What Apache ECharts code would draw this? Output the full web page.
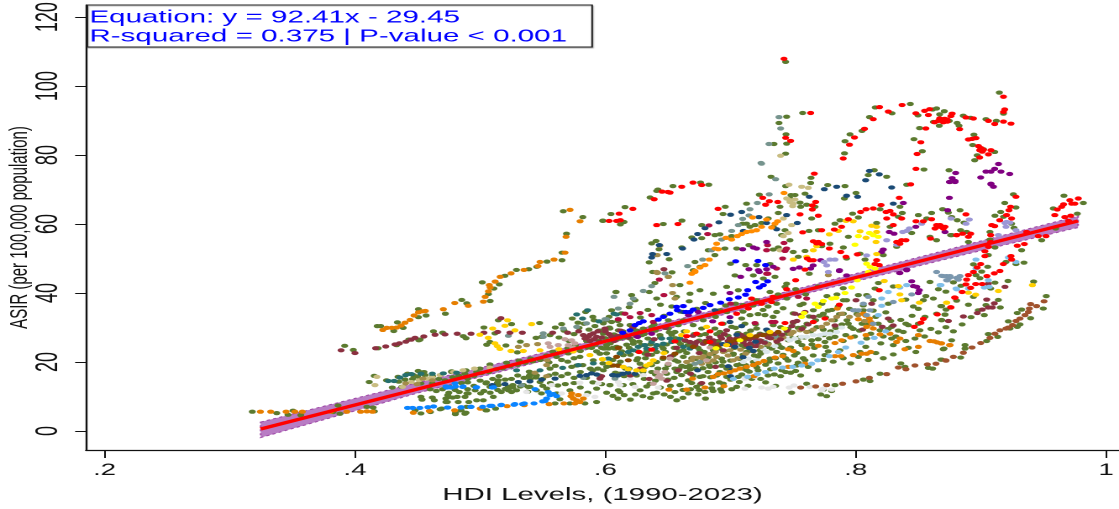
<!DOCTYPE html>
<html><head><meta charset="utf-8">
<style>html,body{margin:0;padding:0;background:#fff;overflow:hidden;width:1119px;height:509px}
#c{width:666px;height:509px;transform:scale(1.6802,1);transform-origin:0 0;position:absolute;left:0;top:0}</style>
<script src="https://cdn.jsdelivr.net/npm/echarts@6/dist/echarts.min.js"></script>
</head><body><div id="c"></div>
<script>
const xTicks=[0.2,0.4,0.6,0.8,1];
const xTickLabels=['.2','.4','.6','.8','1'];
const yTicks=[0,20,40,60,80,100,120];
const fitX=[0.3247,0.9776];
const fitY=[0.58,60.9];
const bandX=[0.3247,0.45,0.6,0.75,0.9,0.9776];
const bandLow=[-1.9,11.0,25.0,38.9,52.3,59.0];
const bandHigh=[2.6,14.0,27.0,40.9,55.1,62.3];

const olive=[[.318,5.6],[.3375,5.2],[.3465,4.7],[.3505,5.9],[.3567,4.6],[.3865,7.4],[.3825,5.5],[.388,5],[.4095,7],[.4145,6.8],[.4155,5.7],
[.4178,30.4],[.4205,30.4],[.431,29],[.4339,31.5],[.4385,29.9],[.4507,35.3],[.4568,33.5],[.4507,33],[.3918,24.7],[.3987,23.5],[.4185,24],[.4333,24.9],[.443,26.5],[.452,26.5],[.451,26.3],[.4627,28.9],[.47,28.5],
[.5664,63.7],[.582,62],[.569,57.2],[.5654,51.7],[.5654,49.5],[.5534,49.1],[.5452,47.6],[.5388,46.9],[.529,46.7],[.5198,45],[.5153,42.5],[.511,41.3],[.5017,43.1],[.5066,39.7],[.508,37.7],[.4853,38],[.4893,37],[.4722,34],[.598,61],[.6045,62.9],
[.598,60.9],[.6157,64.9],[.6149,60.6],[.612,59.9],[.6357,67.7],[.642,70],[.641,69.6],[.654,71],[.676,72],[.6826,71.4],[.6463,60],[.6612,61],[.6958,65],[.694,62.9],[.677,59.7],[.669,56.1],[.677,55.9],[.637,54.4],[.6405,55.1],[.6429,52.7],[.661,53.2],[.651,49.8],[.635,48.9],[.6716,49],[.6533,46],[.6415,45.9],
[.744,107],[.7576,92.2],[.7448,91.1],[.7387,89.3],[.7443,86],[.7347,83.2],[.7448,83.3],[.744,80.4],[.791,80.5],[.7914,84],[.7954,86],[.805,87],[.811,91],[.8156,93.8],[.829,92.1],[.8436,94.8],[.8497,91.5],[.8614,93.2],[.8646,93.5],[.8707,92.7],[.867,91.8],[.862,89.6],[.8667,88.5],[.8747,89.9],[.851,87.8],[.8465,84.6],[.8532,81.1],[.881,89.3],[.8825,88.5],[.8859,91.4],[.8917,90.8],[.904,90.4],[.9123,89.9],[.918,92],[.9147,98.1],[.8944,85.9],[.8934,82.9],[.902,81.7],[.911,80.9],[.897,79.9],[.895,78.5],
[.9259,68.6],[.919,66.1],[.928,64.8],[.9112,62.4],[.9158,63.5],[.918,62.1],[.9245,60.1],[.9264,58.9],[.9072,57.7],[.9072,55.5],[.9112,53.2],[.9059,51],[.9325,52.4],[.9485,55.3],[.9597,58.7],[.9578,64.5],[.9663,68.2],[.977,63],[.9818,66.1],[.8833,64],[.8811,61.1],[.874,63.3],[.8694,64.3],[.8865,60.4],[.8886,57.7],[.89,54.8],[.8758,56.8],[.8838,58.2],[.9344,48.8],[.928,48.4],[.92,49],[.9054,47.6],[.9006,46.2],[.894,48.3],[.896,45.2],[.8992,44.3],[.9112,43],[.9216,43.5],[.9421,43.3],[.9078,41.3],[.894,38.9],[.8806,37.8],[.9139,38],[.9155,35.8],[.904,36.5],[.8979,35],[.9027,33.6],[.8921,33],[.8713,33.7],[.8686,32.2],[.8721,35.2],[.8686,36.2],[.9522,39.1],[.9498,35.5],[.9397,32.7],[.9325,35.2],[.929,34.2],[.9219,31.8],[.9312,30.9],[.929,30.2],[.9232,29.7],[.9134,27.3],[.9046,26.1],[.9059,28.1],[.8873,24.9],[.8873,23.9],[.8705,23.9],[.8766,26.3],[.8838,21.3],[.8681,20.7],
[.8194,16.6],[.8114,14.5],[.8061,14.9],[.8614,18.1],[.8686,20.7],[.858,18.3],[.8393,18.6],[.7834,13.3],[.7741,12],[.7488,11.1],[.7608,13.7],[.772,10.6],[.7768,10.1],[.7808,11.6],
[.8646,34],[.868,36.2],[.8713,33.8],[.8686,32.1],[.8699,23.7],[.8553,33.1],[.842,30.7],[.838,28.7],[.83,24.9],[.8287,30.2],[.8473,26.8],[.8513,29.2],[.8593,43.2],[.854,37.9],[.8154,41.3],[.8181,42.9],[.7448,42.7],[.7435,41.8],[.7629,45.6],[.8021,39.4],[.814,37.9],[.7901,37.9],[.7927,37.9],[.7581,36.9],[.7555,36.5],[.7741,34],[.7661,35],[.7901,34],[.7941,31.1],[.7741,27.8],[.7754,25.8],[.7648,26.3],[.7541,25.8],[.7461,26.3],[.7874,23.4],[.8034,22.9],[.8021,21.5],[.7834,27.3],[.8194,29.2],[.8087,26.8],[.8287,26.8],[.7395,24.4],[.7408,17.6],[.7595,20.5],[.7528,19],[.7754,22],[.8087,39.4],[.8061,35],[.7994,35],
[.503,30],[.5145,32.1],[.5251,31],[.5118,28.3],[.5078,25.8],[.5052,25],[.5206,24.8],[.5321,25.9],[.5297,22.8],[.5475,31.3],[.5446,27],[.5491,27.3],[.5558,27.8],[.56,30],[.5651,31],[.5736,32.6],[.5842,34.5],[.5781,31.4],[.5917,30.4],[.5984,31.2],[.605,31.6],[.6085,40.3],[.6032,30],[.6077,27.3],[.6103,29.2],[.4865,27.5],[.4887,26.9],
[.4772,17.3],[.4887,17.6],[.4998,18.1],[.5078,19.3],[.5211,19.8],[.531,20.4],[.5403,21],[.5611,21.5],[.5704,22.5],[.5797,21.5],[.5904,20.5],[.601,22.5],[.609,24.4],[.5392,17.2],[.5392,16],[.5558,18.1],[.5731,18.6],[.5771,19],[.601,18.6],[.6103,19.1],
[.5145,14.7],[.5225,12.8],[.5291,11.8],[.5145,13.3],[.5078,12.8],[.5004,10.9],[.4905,10.9],[.4879,9.9],[.4759,12.8],[.4746,9.9],[.478,9.7],[.4825,8.4],[.4738,8.4],[.4892,7],[.4804,5.3],[.4887,5.3],[.4692,6.5],[.4972,8.9],[.5025,8.9],[.5105,9.9],[.5251,11.3],[.5398,12.8],[.5478,14.2],[.5531,12.3],[.5611,10.9],[.5637,9.2],[.5598,8],[.5717,8],[.593,12.3],[.593,8.4],[.5837,8],[.6037,13.3],[.6103,11.8],[.5717,11.8],[.5345,13.3],[.5052,6],[.5225,11.8],
[.4114,14.2],[.4154,16],[.4252,14.7],[.4298,12.6],[.4344,15.7],[.4374,12.8],[.442,16.6],[.4466,16.2],[.4505,17.4],[.4551,17.1],[.4527,13.8],[.4618,13.8],[.4527,9.9],[.4536,9.1],[.4618,9.7],[.4634,8.9],[.4741,10.4],[.4726,9.4],[.4817,9.9],[.4894,10.9],[.4833,11.3],[.4726,8.4],[.4909,8.4],[.468,6.3],[.4848,6],[.4878,5],[.4802,4.9],[.4527,5.1],[.4603,5.5],[.5046,6],[.5123,6.5],[.4481,6],[.4771,17.1],[.4878,16.6],[.4972,17.1],[.5046,13.8],[.5138,14],[.5169,11.3],[.5261,13.3],[.5383,12.8],[.549,10.9],[.5445,15.5],[.5321,20],[.5398,16.2],
[.7643,73.4],[.764,71.9],[.7776,71.3],[.7914,71],[.8148,75.6],[.81,74.2],[.8247,73.7],[.8407,71.4],[.8545,75.8],[.8745,75.6],[.8753,72.2],[.8002,69],[.7909,67.4],[.7595,68.8],[.7515,68.4],[.7483,68.4],[.744,71],[.7555,66.2],[.7608,65.6],[.7675,65],[.7648,61.6],[.7975,63],[.8194,64.3],[.8353,65],[.8372,63.2],[.834,62.1],[.8606,63.2],[.8766,62],[.8646,55.3],[.8766,56.8],[.7874,61.1],[.7834,60.1],[.8021,61.9],[.8167,60.3],[.8274,59.2],[.7627,58],[.7701,58.2],[.7941,56.3],[.7794,54.3],[.7728,53.6],[.7501,51.9],[.7595,52.2],[.7901,53.2],[.8074,49.7],[.7927,50],[.8034,51.4],[.822,51],[.7541,50.5],[.744,52.6],[.7408,56.8],[.7475,55.3],[.7435,58.2],[.756,65],[.7475,67.4],[.7395,65],[.85,62.6],[.8567,61.6],[.8327,53.4],[.8447,57.4],[.8593,56.3],
[.7323,73.7],[.7128,65.9],[.723,68.5],[.7128,60.1],[.7155,59.2],[.7097,60.1],[.7195,59.7],[.7248,60.3],[.7301,61.6],[.7381,63.2],[.7341,59.2],[.7009,56.5],[.6915,57],[.6875,56.8],[.6955,52.9],[.7049,52.9],[.7147,53.9],[.7381,53.2],[.7341,52.6],[.7208,48.1],[.7315,48.4],[.7121,48.1],[.7,48.5],[.6756,47.6],[.6822,52.4],[.6702,46.6],[.6875,51],
[.6378,46.1],[.6503,44.7],[.6596,42.3],[.6396,42.9],[.6085,40.3],[.621,39.4],[.6351,40.3],[.6237,37.9],[.641,38.4],[.6569,38.9],[.6676,39.8],[.6756,40.8],[.6862,39.8],[.6969,41.8],[.7035,45.1],[.7062,40.8],[.7182,45.1],[.7262,44.2],[.7315,40.3],[.7102,36.5],[.7208,37.9],[.7275,33.6],[.7089,32.6],[.7155,33.6],[.6915,35],[.6782,32.1],[.6702,30.7],[.6583,30.7],[.6503,29.7],[.6356,29.2],[.6303,29.7],[.6197,30.7],[.6117,30.7],[.601,32.1],[.6037,29.7],[.6117,26.8],[.601,26.3],[.6197,26.8],[.629,27.8],[.6436,27.8],[.6556,28.7],[.6769,29.7],[.6875,29.7],[.7009,30.2],[.7115,31.1],[.7208,29.7],[.7368,34.5],[.7368,26.8],[.7301,25.3],[.7128,22.9],[.7035,25.3],[.6915,28.7],[.6756,27.8],[.6583,25.8],[.6463,23.9],[.6316,22.4],[.6143,22],[.6024,23.9],[.5957,22.4],[.625,20.5],[.641,20],[.6556,20.5],[.6623,21.5],[.5984,17.6],[.6117,16.6],[.6037,13.3],[.6143,13.3],[.6277,11.8],[.6356,13.7],[.649,16.6],[.6609,16.2],[.6663,14.7],[.6729,12.8],[.6596,13.3],[.6556,11.3],[.6383,10.9],[.6117,11.3],[.6756,15.7],[.6849,13.7],[.6915,17.1],[.7062,15.7],[.6969,15.7],[.6836,18.6],[.7102,18.1],[.7182,20],[.7022,22.4],[.6929,21],[.6862,23.4],[.6756,23.4],[.6676,19],[.7315,21],[.7368,22.9],[.7049,12.8],[.6942,13.7],[.6796,11.3],[.6663,10.9],[.6277,19.5],[.6223,25.3],[.637,30.2],[.6503,32.1],[.6623,32.1],[.6822,33.6],[.6969,34.5],[.605,35],[.5984,28.2],[.6077,23.9],[.6316,18.6],[.6556,18.1],[.6623,23.4],[.6809,22],[.7115,24.4],[.7235,23.4],[.7128,28.2],[.7235,28.2],[.7341,30.7],[.7368,36.9],[.7355,44.7]];
const oliveDense=[[.435,14.3],[.44,14.9],[.446,15.1],[.45,15.8],[.456,16.2],[.462,15.9],[.467,15.1],[.472,14.7],[.478,15.6],[.483,16],[.49,15.2],[.495,16],[.501,16.8],[.507,17.1],[.513,17.9],[.518,18.2],[.524,18.8],[.53,19.2],[.536,19.8],[.542,20.2],[.548,20.6],[.553,21.9],[.558,23],[.564,22.8],[.57,24],[.576,24.8],[.58,23.2],[.586,24.2],[.592,25],[.597,24.1],[.49,12.1],[.496,11.8],[.503,11.6],[.508,11.1],[.514,11.9],[.52,12.2],[.526,12.6],[.532,12.9],[.538,11.4],[.545,11.8],[.55,13.1],[.556,13.9],[.562,13.2],[.568,13.6],[.575,13.9],[.58,12.6],[.586,11.1],[.59,14.1],[.597,13.6],[.601,11.1],[.606,10.2],[.61,9.4],[.615,10.4],[.62,9.1],[.624,10.6],[.63,10.1],[.636,9.6],[.641,11.1],[.647,10.6],[.652,9.9],[.657,8.9],[.662,9.6],[.668,12.1],[.674,10.6],[.68,9.4],[.686,11.6],[.692,12.1],
[.59,33.1],[.595,29.1],[.6,26.9],[.604,25.4],[.607,28],[.611,24.2],[.614,28.9],[.617,25],[.62,22.1],[.623,28.1],[.626,23.1],[.629,24.9],[.632,21.1],[.634,26.8],[.637,22.1],[.64,29.1],[.642,18.1],[.645,24.6],[.648,22.9],[.65,19.1],[.653,27.9],[.655,24.1],[.658,20.1],[.66,25.2],[.663,28.9],[.665,22.6],[.668,17.9],[.67,25.4],[.672,20.9],[.675,26.2],[.678,18.2],[.68,28.1],[.682,21.4],[.685,24.8],[.688,19.9],[.69,26.1],[.693,18.9],[.695,23.1],[.698,27.6],[.7,20.4],[.703,24.1],[.706,28.4],[.708,19.4],[.71,22.1],[.713,26.6],[.715,17.2],[.718,24.6],[.72,30.9],[.722,21.6],[.725,26.1],[.728,19.2],[.73,28.9],[.733,23.9],[.735,16.4],[.738,25.1],[.74,30.1],[.742,22.1],[.745,28.2],[.748,24.2],[.75,31.4],[.753,22.6],[.755,27.1],[.758,30.1],[.76,23.9],[.763,33.2],[.765,25.1],[.768,32.1],[.77,26.6],[.773,36.9],[.776,24.4],[.778,34.9],[.78,28.9],[.783,32.1],[.786,36.1],[.789,30.9],[.792,27.8],[.795,35.4],[.798,29.6],[.801,33.9],[.805,31.1],[.808,24.4],[.812,28.2],[.816,33.1],[.82,25.4],[.824,34.4],[.828,31.9],[.832,27.4],[.836,32.2],[.84,26.1],[.845,33.4],[.85,31.1],
[.563,27.1],[.567,29.1],[.571,26.1],[.575,28.1],[.579,29.9],[.583,31.1],[.587,29.4],[.591,32.1],[.595,26.1],[.599,23.9],[.603,33.1],[.606,20.6],[.61,31.9],[.613,34.1],[.616,18.1],[.619,35.9],[.622,29.9],[.625,16.1],[.628,32.9],[.631,15.1],[.634,35.1],[.637,17.1],[.64,14.6],[.644,36.6],[.647,33.4],[.65,14.9],[.653,36.1],[.657,17.1],[.66,34.6],[.664,18.6],[.667,37.6],[.67,16.1],[.673,35.4],[.676,13.6],[.68,37.1],[.684,15.6],[.688,33.1],[.691,14.1],[.696,36.4],[.7,14.9],[.704,36.9],[.707,14.2],[.71,34.6],[.714,13.1],[.718,36.4],[.722,17.6],[.726,35.1],[.73,16.1],[.734,33.1],[.738,19.6],[.742,35.6],[.746,20.4],[.75,34.1],[.754,19.8],[.758,21.1],[.762,18.6],[.766,21.9],[.77,17.6],[.774,20.6],[.778,23.1],[.782,20.1],[.79,21.1],[.796,19.6],[.81,20.6],[.816,22.6],[.822,21.1],[.83,22.2],[.836,19.6],[.842,24.1],[.848,22.9],[.855,27.4],[.86,29.6],[.866,28.6],[.872,30.1],[.878,28.9],[.885,30.9],[.84,38.1],[.846,36.1],[.85,35.4],[.856,39.1],[.862,38.4],[.866,41.1],[.872,40.4],[.878,43.1],[.884,42.1],[.89,36.6],[.83,41.9],[.826,36.9],[.79,41.4],[.785,39.6],[.777,39.1],[.77,41.9],[.76,39.6],[.752,41.1],[.745,38.4],[.738,39.6],[.73,36.1],[.722,33.9],[.716,29.1],[.704,29.9],[.694,31.1]];
const oliveCore=[[.606,24.1],[.609,26.6],[.613,23.1],[.616,27.1],[.619,24.1],[.622,26.1],[.625,29.1],[.627,25.9],[.631,28.1],[.633,23.1],[.636,25.1],[.639,30.9],[.641,22.9],[.644,27.1],[.646,20.9],[.649,25.1],[.651,28.6],[.654,21.9],[.656,26.9],[.659,23.1],[.661,18.9],[.664,26.1],[.666,24.9],[.669,21.1],[.671,28.1],[.674,24.1],[.676,19.9],[.679,22.9],[.681,26.1],[.683,19.1],[.686,22.4],[.689,28.1],[.691,23.9],[.694,20.1],[.697,25.1],[.699,18.4],[.702,22.1],[.704,26.4],[.707,20.9],[.709,24.9],[.712,19.1],[.714,23.1],[.717,27.1],[.719,21.9],[.721,18.4],[.724,22.4],[.726,27.9],[.729,24.4],[.731,20.1],[.734,27.4],[.736,21.1],[.739,27.9],[.741,24.1],[.744,21.1],[.746,29.6],[.749,26.9],[.751,21.9],[.754,29.9],[.757,24.9],[.759,27.1],[.761,31.1],[.764,28.9],[.767,24.1],[.769,30.1],[.771,33.4],[.774,29.4],[.776,32.9],[.779,26.9],[.781,35.1],[.784,29.9],[.787,33.9],[.79,26.1],[.793,32.1],[.796,30.1],[.799,27.4],[.803,29.1],[.806,36.4],[.81,30.9],[.814,34.9],[.818,31.1],[.822,27.4],[.826,29.6],[.834,29.1],[.84,31.1],
[.585,26.1],[.589,24.1],[.593,23.1],[.597,29.1],[.601,24.9],[.604,18.9],[.608,16.9],[.612,20.1],[.615,15.9],[.619,18.1],[.622,13.6],[.626,21.1],[.63,17.1],[.633,12.9],[.637,19.1],[.64,16.4],[.644,12.6],[.648,18.1],[.652,13.1],[.655,15.4],[.659,18.1],[.662,11.9],[.665,17.1],[.669,13.9],[.672,18.1],[.675,11.9],[.678,15.9],[.682,17.1],[.685,12.4],[.689,16.1],[.693,11.4],[.697,18.1],[.701,12.1],[.705,19.1],[.709,16.4],[.713,17.6],[.717,15.1],[.72,19.1],[.724,15.1],[.728,14.1],[.732,17.9],[.736,13.1],[.74,15.9],[.744,17.1],[.748,16.9],[.752,17.4],[.756,16.1],
[.46,12.1],[.465,11.6],[.47,12.1],[.475,11.1],[.48,11.9],[.485,13.9],[.49,14.1],[.495,13.1],[.5,14.6],[.505,14.1],[.51,15.1],[.515,15.9],[.52,14.9],[.525,15.1],[.53,16.1],[.535,15.4],[.54,15.1],[.545,16.1],[.55,15.1],[.555,16.1],[.56,16.6],[.565,15.9],[.57,16.6],[.575,15.4],[.58,17.1],[.585,15.4],[.59,17.6],[.595,16.1],[.555,19.9],[.56,18.9],[.565,20.6],[.57,20.1],[.575,21.1],[.582,19.1],[.588,18.1],[.594,18.1],[.598,19.6]];
const orange=[[.3245,5.6],[.3327,5.6],[.345,5.6],[.352,5.6],[.358,5.6],[.3805,5.6],[.3935,5.6],[.4045,5.6],[.4095,5.7],[.414,5.6],
[.4222,29.3],[.4254,29.9],[.4294,29.9],[.4334,30],[.4369,30.6],[.44,31.4],[.444,32.2],[.4472,33.5],[.4507,34.4],[.4538,34.7],[.4562,34.8],
[.5718,64.1],[.5798,60.8],[.5686,56.3],[.5678,51.7],[.559,49.7],[.5478,49],[.5462,47.8],[.535,46.7],[.5247,45.7],[.516,44.7],[.512,43.3],[.5073,42.3],[.508,41.6],[.5066,40.5],[.504,38.9],[.5026,37.5],[.4905,36.3],[.4797,37.1],[.4706,35.3],
[.4466,5.3],[.4594,5.8],[.4796,6],[.5001,6.5],[.5215,7.2],[.5352,7.5],[.5551,7.8],
[.5731,10.9],[.5744,9.4],[.5771,8.9],[.5797,8.4],[.5824,9.4],[.5757,8],[.5669,8],[.5784,10.4],[.5725,10.1],
[.8593,26.1],[.8625,26],[.865,25.7],[.8682,25.4],[.8753,24.9],[.85,27.8],[.85,24.4],[.8393,23.7],[.8327,25.8],[.8353,26.8],[.8082,27.8],[.8194,28],[.8274,28.2],[.814,29.7],[.7887,26.3],[.7959,27.1],[.7701,24.7],[.7608,24],[.7501,23.2],[.7461,23.7],[.7416,21.7],[.7834,25.5],[.8047,22.4],[.8087,22.4],[.8119,22.9],[.7981,22],[.7882,21.7],[.7834,21.7],[.7595,19.5],[.7461,18.6],[.806,34],[.808,33.4],[.811,32.6],[.812,31.6],[.813,30.9],[.8021,32.4],[.8087,30.2],[.7853,35.5],[.8686,25.4],[.875,24.9],
[.6862,15.7],[.6902,16.5],[.6947,16.7],[.6995,17.1],[.7035,17.6],[.7075,18.1],[.7128,18.6],[.7182,19.1],[.7222,19.7],[.7267,20.3],[.7142,15.7],[.7187,15.9],[.6947,13],[.6796,12.6],[.6649,12],[.6508,12],[.6697,15.2],[.7355,21.3]];
const brightOrange=[[.6963,56],[.7009,55.5],[.7054,56.5],[.7089,57.1],[.7128,57.7],[.7168,57.9],[.7208,58.2],[.7248,59.2],[.7328,59],[.7355,60.1],[.7376,60.8],[.7176,61.9],[.7288,61.3],[.6889,54.3],[.6902,52.7],[.6875,52.9],[.683,49.7],[.6796,48.1],[.6756,47.4],[.6716,46.4],[.669,45.6],[.6716,46.1],[.6676,43],[.7427,69]];
const maroon=[[.3889,23.4],[.4,22.6],[.4165,24],[.4246,24.5],[.432,25.1],[.4355,25.4],[.4407,25.9],[.445,26.5],[.448,27],[.455,27.4],[.464,27.9],
[.4719,28],[.4817,28.2],[.4927,28.2],[.503,28.5],[.514,28.7],[.5166,32.7],[.5238,28.5],[.5337,28.5],[.5579,28.5],[.5699,28.5],[.5787,28.9],[.5824,27.8],[.5864,27.3],[.5904,28.3],[.593,27.3],[.5837,26.8],[.5877,26.1],[.5957,25.8],
[.6636,26.3],[.6676,25.8],[.6729,25.8],[.6782,25.3],[.6862,26.3],[.6929,26.8],[.6995,26.8],[.7102,25.8],[.7195,26.8],[.7235,26.3],[.7288,27.8],[.6716,24.9],[.6942,23.4],[.7128,24.9],[.6969,29.2],[.5997,29.7],[.6583,17.6],[.5957,15.2],[.597,15.9],
[.6468,46.9],[.9192,41.8],[.9059,42.7],[.9046,38.1],[.9107,37],[.9011,35.2],[.9059,35.8],[.9091,35.8],[.8971,34.2],[.886,33.2],[.874,31.9],[.756,33.6],[.7595,34.5],[.7515,34],[.7501,31.6],[.7834,30.6],[.8002,37.9],[.8127,36.9],[.826,32.6],[.83,30.6],[.8055,29.4],[.8212,30.2],
[.603,28.1],[.607,26.1],[.612,29.1],[.618,27.1],[.622,30.1],[.628,28.6],[.634,22.1],[.639,26.6],[.648,29.9],[.652,21.6],[.657,24.1],[.67,27.6],[.675,22.6],[.683,27.1],[.69,25.1],[.695,28.1],[.7,24.9],[.705,26.9],[.708,27.9],[.713,27.1],[.716,25.4],[.72,24.6],[.724,27.9],[.727,25.6],[.732,26.9],[.737,25.9],[.741,27.9],[.745,29.1],[.749,30.4],[.753,31.9],[.757,29.6],[.762,30.9],[.766,33.1],[.62,16.1],[.628,18.1],[.635,15.1],[.649,14.6],[.668,16.6],[.677,13.9],[.688,18.6],
[.588,27.9],[.591,26.6],[.594,28.9],[.597,27.1],[.6,28.9],[.605,27.4],[.61,27.6],[.615,28.1],[.625,27.4],[.68,26.1],[.686,25.4],[.692,27.4],[.698,26.1],[.703,25.4],[.71,27.4],[.715,26.6],[.722,25.6],[.73,27.1],[.735,28.1],[.74,26.6]];
const red=[[.603,60.9],[.609,60.9],[.612,61.1],[.611,63],[.622,64.4],[.639,67.2],[.6453,69.4],[.65,69.3],[.6517,69.1],[.661,70.8],[.67,72],[.677,71.3],[.641,59.7],[.658,60],[.69,64.4],[.7257,67.6],[.728,65.6],[.731,66.6],[.7377,66.4],
[.7427,107.9],[.764,92.2],[.744,85],[.748,84.1],[.79,79],[.795,83],[.799,85.1],[.807,87.6],[.814,90.4],[.819,93.9],[.826,92.6],[.837,94.5],[.848,92.1],[.855,92.8],[.859,93.3],[.858,91.6],[.863,89.5],[.866,89.9],[.868,90.1],[.871,90.5],[.873,90.3],[.876,91.3],[.877,92],[.87,89.5],[.873,89.7],[.867,90.6],[.856,87.7],[.883,87.5],[.888,90.9],[.894,90.6],[.906,89.9],[.911,89],[.918,89.7],[.924,89.1],[.918,92.5],[.919,93.2],[.918,96.9],[.852,83.7],[.849,80.3],[.89,84.5],[.893,84.7],[.896,84.9],[.898,82.6],[.9,82],[.902,81.5],[.901,81],[.899,81.4],[.908,81.4],[.906,80.2],[.899,79.3],
[.959,62.6],[.961,64.2],[.9645,65],[.966,65.7],[.971,66.9],[.9725,65.9],[.975,65.9],[.9778,67.4],[.967,62],[.9717,62.4],[.97,60.9],[.928,67.9],[.9237,65],[.9224,64],[.9205,62.6],[.9245,61.6],[.915,61.1],[.9086,59.7],[.911,59.4],[.888,62.8],[.8673,59.7],[.8713,59.2],[.8806,56.8],[.8854,57.2],[.8918,57.2],[.89,56.3],[.9078,56.8],[.9078,54.8],[.906,53.4],[.9032,52.1],[.9032,50.7],[.9365,57.7],[.9458,56.5],[.952,56.5],[.9347,54.2],[.929,53.7],[.924,50.7],[.9245,49.7],[.9179,48.4],[.9152,46.4],[.9107,45.7],[.8998,48.4],[.897,47.4],[.894,46.1],[.89,45.2],[.8886,43.9],[.888,42.5],[.9048,44.9],[.8958,42.6],[.901,42.6],[.8918,41.5],[.885,40.3],[.879,38.7],[.8758,35.9],
[.7669,74.6],[.8439,71.5],[.8481,76],[.7555,62.8],[.7653,65.4],[.768,66.4],[.7653,64.2],[.7701,62.4],[.7576,57.6],[.7728,58.2],[.7829,58.4],[.7887,59.2],[.7941,61.4],[.8039,63.5],[.8082,64.3],[.814,64.5],[.8202,65.5],[.8242,63.5],[.8274,63.8],[.83,62.8],[.8348,67.6],[.8247,61.6],[.8367,61.6],[.83,59.7],[.8481,60.8],[.854,60.8],[.8606,61.4],[.8646,59.7],[.8673,59.2],[.87,58.7],[.8633,58.7],[.8806,56.8],[.8598,55.8],[.8327,54.8],[.8367,55.3],[.8401,55.3],[.8353,54.3],[.7661,55],[.7701,54.8],[.7728,54.2],[.7688,54.4],[.7789,52.9],[.788,51.9],[.7922,50.5],[.8013,51.2],[.8167,49.5],[.8154,48.4],[.7613,50],[.7635,49.5],[.7661,49.5],[.7595,46.8],[.8188,48.1],
[.6269,22.9],[.637,23.6],[.6556,26],[.6649,27.5],[.6836,28.9],[.6729,28.2],[.6836,25.8],[.6929,31.1],[.7049,34],[.7142,35.5],[.7248,36.9],[.7341,38.9],[.7328,37.4],[.7168,38.4],[.7448,41.1],[.752,43.7],[.7869,36.6],[.7754,32.6],[.7661,31.6],[.7435,31.3],[.8188,40.8],[.8468,30.2],[.8521,31.4],[.854,32.5],[.8652,33.8],[.8761,35.8],[.8793,38.6]];
const navy=[[.7,62.7],[.7089,63.5],[.7227,62],[.7288,60.3],[.7368,58.5],[.7102,58],[.6907,60.5],[.6796,58.8],[.6737,57.1],[.6708,55.5],[.6617,52.9],[.6431,53.9],[.6377,51.3],[.637,50.3],[.649,51.3],
[.8109,75.4],[.8188,74.4],[.8079,72.7],[.8287,70.6],[.7848,70.8],[.7749,70.1],[.7927,68.2],[.8015,67.9],[.7629,67.9],[.83,65.9],[.7533,60.3],[.7448,62.6],
[.5491,14.9],[.5398,14.4],[.5305,14.2],[.5198,13.6],[.5097,13.3],[.5598,15.2],[.5797,16],[.585,16.2],[.589,16.7],[.593,16.4],[.6058,16.2],[.61,16.1],[.614,16.6],[.618,16.9],
[.6063,16.2],[.6237,16.6],[.6737,17.6],[.6982,18.8],[.7009,17.6],[.6937,25.2],[.7035,24.4],[.7089,30.4],[.7182,23.2],[.6995,31.6],[.6875,35],[.7288,29.4],[.6623,34.5],[.7,15.9],[.705,27.9],[.71,21.4],[.715,24.1],[.72,25.9],[.698,25.1]];
const purple=[[.8748,72.2],[.8793,72.2],[.908,71.5],[.91,70.8],[.8748,67.6],[.8734,64],[.8713,57.7],[.8798,74.8],[.8793,72.5],[.838,66.1],[.8268,57.7],[.8306,57.2],[.848,59.2],[.822,52.6],[.8207,51.9],[.772,49.5],[.764,47.1],[.766,48],[.755,47.4],[.75,47],[.787,46.6],[.835,45.8],[.8407,46.8],[.8998,73.5],[.904,75.2],[.908,75.2],[.911,76],[.914,77.4],[.916,75.2],[.923,74.5],[.908,71.7],[.877,73.3],
[.7097,52.7],[.7182,53.2],[.7208,52.9],[.7147,46.9],[.7222,46.6],[.7288,46.9],[.7341,47.6],[.7288,54.8],[.7081,44.7],[.6995,40],[.6663,33.6],[.6742,34.5],[.6857,31.8],[.6995,33],[.6258,27.3],[.637,28.2],[.723,46.1],
[.8447,43.4],[.846,42],[.8487,41.8],[.8508,40.8],[.85,40],[.7927,45.1],[.7869,46.4],[.8353,45.8],[.8407,46.6]];
const sienna=[[.9504,37.6],[.9445,36.2],[.9397,36.8],[.9387,35.5],[.9379,34.5],[.9352,33.6],[.9312,32.6],[.928,31.9],[.9253,30.7],[.9219,30],[.92,29.7],[.9152,29.2],[.9112,28.2],[.9072,27],[.8998,25.5],[.8929,24.2],[.886,22.7],[.878,21.5],[.8721,20.4],[.834,18.4],[.8401,17.9],[.8473,19],[.8572,19.3],[.8641,19.5],[.8718,20.5],[.8247,16.5],[.8109,15.4],[.8002,14.4],[.7895,13.7],[.7768,13.3],[.768,12.9],[.756,12.6]];
const lavender=[[.9205,60.6],[.9232,60.4],[.92,59.2],[.9192,60.3],[.928,58.2],[.9139,56.8],[.8761,61.6],[.8881,60.1],[.8907,61.3],[.7746,49],[.7794,49.7],[.7834,49.7],[.7768,48],[.8428,58.7],[.8407,58],[.8375,57.7],[.8247,55.3],[.8087,50.9],[.8327,54],[.8527,60.1],[.7781,46.1]];
const lightBlue=[[.896,49.7],[.896,47.1],[.928,49],[.9219,50.3],[.9059,43.7],[.8801,41.3],[.9027,41.6],[.9067,41.8],[.89,41.3],[.8681,42.3],[.7416,18.4],[.7496,18.6],[.7568,19],[.7648,19.5],[.7696,20.5],[.7789,21.7],[.7861,22.9],[.792,24.2],[.8042,25.6],[.8148,27],[.8239,28.9],[.818,33.6],[.8207,36.3],[.8207,38.4],[.826,40.3],[.8353,41.6],[.8407,42.3],[.8673,42.3],[.8806,41.1],[.7022,15.1],[.7137,15.7],[.7214,16.5],[.728,17.1],[.7349,18.1]];
const slate=[[.8686,45],[.8726,44.9],[.8753,44.5],[.8732,43.7],[.8806,44.4],[.8833,44.9],[.882,43.9],[.7981,35],[.8021,35],[.8101,38.9],[.8061,36.9],[.8114,35],[.8087,33.6],[.814,31.1],[.83,37.4],[.8447,39.6],[.8646,46.1],[.87,44.9],[.8753,44.9],[.8726,43.7]];
const gold=[[.9411,42.3],[.9139,40.6],[.89,40.1],[.8958,39.5],[.8726,37.2],[.7922,60.9],[.798,60.8],[.7861,58],[.7789,57],[.8034,57.9],[.8127,59.5],[.8167,59.2],[.8167,57.7],[.8082,56],[.8162,54.8],[.8167,51.3],[.7688,53.6],[.7661,52.4],[.7608,50.5],[.7501,49.7],[.8228,43.5],[.834,42],[.8353,39.6],[.8367,37.9],[.8508,37.2],[.8726,37.2],
[.5978,20.8],[.6029,19.7],[.6143,18.6],[.6183,17.9],[.625,17.6],[.6303,17.6],[.633,19],[.6356,19.5],[.6383,20.5],[.6468,22.6],[.6609,27.8],[.6649,28.9],[.6809,30.2],[.6969,24.9],[.7155,27.8],[.7315,28.7],
[.5219,32.1],[.51,29.7],[.4998,27.9],[.5065,27],[.5198,30.5],[.5278,29.2],[.5411,31],[.5118,25.4],[.5137,24.6],[.5158,23.8],[.5246,23.2],[.5345,23.2],[.5478,23.4],[.5629,23.7],[.5744,23.1],[.5877,22],[.5976,20.8]];
const yellow=[[.743,29.7],[.7568,33.1],[.7587,34.2],[.7675,36.9],[.7701,36],[.7741,37.7],[.7808,38.4],[.7842,38.6],[.7914,40],[.7967,41.6],[.8013,43.7],[.81,45.6],[.8021,56.5],[.7994,54],[.8109,57.4],[.814,56.8],[.818,56.3],[.8087,48.5],[.8114,47.6],[.8154,47.1],[.8101,46.1],[.6884,24],[.7075,26.3]];
const blue=[[.6138,28.5],[.6197,29.2],[.6237,30.7],[.6271,31.3],[.6303,31.8],[.6423,32.3],[.6463,33.1],[.6516,34],[.6569,36],[.6575,35],[.6623,36.2],[.6644,34.5],[.6676,34.5],[.6702,35.2],[.6782,35.7],[.6836,36.5],[.6921,37.2],[.699,38.2],[.7062,38.7],[.712,39.5],[.7137,40.8],[.72,43.2],[.723,41.6],[.7262,42.3],[.7296,43.4],[.7041,49.2],[.7219,49.3],[.728,48.1]];
const azure=[[.4732,12.6],[.4772,12.6],[.4799,13.8],[.486,12.8],[.4967,12.6],[.5097,12.6],[.5438,12.1],[.4738,6.8],[.4847,6.8],[.4927,7],[.502,7],[.5078,7.3],[.5166,7.5],[.527,7.6],[.5339,7.8],[.543,8],[.5499,8.6],[.5531,9.4],[.5558,10.4],[.5544,11.3],[.5584,10.7],[.5611,10.1],[.5518,8.7],[.442,6.7],[.446,6.7],[.4518,6.7],[.4583,6.9],[.4628,7.1],[.4741,6.8],[.4848,6.9],[.4925,7],[.5094,7.3],[.517,7.6],[.5277,7.8],[.5353,8],[.4726,12.9],[.4757,12.7],[.4803,12.9],[.4864,12.9],[.4972,12.7],[.5108,12.7]];
const tan=[[.74,79.8],[.7467,71.4],[.7568,70.8],[.7621,70.5],[.7448,67.4],[.7475,66.9],[.7501,65.9],[.7496,65.2],[.7475,66.4],[.7515,67.1],[.7422,61.6],[.7488,59.7],[.7461,57.4],[.7422,56.5],[.7395,52.4],[.4175,15.7],[.416,13.3],[.438,12.8],[.445,14.2],[.4511,14.7],[.4573,15.2],[.4618,15.5],[.468,16.2],[.4787,17.1],[.4863,17.6],[.4955,18.1],[.5077,18.4]];
const oliveTan=[[.4405,13.8],[.4496,13.6],[.4542,15.2],[.4618,14.7],[.5305,24.4],[.5371,24.9],[.5459,25.2],[.5531,19.1],[.5536,20.5],[.5531,15.9],[.5438,16.9],[.6649,20],[.6689,20.5],[.6742,21.3],[.6782,21.7],[.6836,22.3],[.6889,21.5],[.6942,22.9],[.6995,23.4],[.6769,19.5],[.6702,21.3],[.6822,20],[.6537,40],[.6556,38.4],[.6503,44.7],[.6537,42.3],[.641,46.1],[.6862,20.5],[.7022,20.5],[.7501,28.7],[.7555,29.2],[.7608,28.7],[.7661,29.4],[.7728,30.2],[.7768,31.1],[.7808,32.1],[.7848,33.1],[.7888,34],[.6436,53.7],[.6415,51],[.6415,45.8],[.7781,45.2],
[.706,21.1],[.712,22.4],[.718,23.1],[.724,24.4],[.73,25.1],[.736,26.6],[.742,27.1],[.678,20.9],[.688,22.9],[.698,21.9],[.708,23.6],[.748,28.1],[.795,33.1],[.802,33.6],[.807,31.9]];
const crimson=[[.6828,59.6],[.6817,57.1],[.7296,53.9],[.7288,52.4],[.7299,45.6],[.7368,47.1],[.7427,54.5],[.7435,52.2],[.7416,50],[.7448,52.9],[.6157,34],[.6197,33],[.6277,34.2],[.6103,32.4],[.6383,31.6],[.6468,39.4],[.6431,43.9],[.637,33.6],[.7328,31.6],[.7355,31.6],[.7195,31.3],[.7,36.9],[.7288,45.6],[.7541,38.9],[.7608,38.4]];
const teal=[[.4267,14.5],[.4313,14.5],[.4359,15.5],[.4405,16.2],[.4451,16.5],[.4527,16.6],[.4618,16.6],[.5771,33.8],[.5818,32.6],[.5858,35],[.5949,31.8],[.6069,34],[.5478,17.6],[.5291,17.6],[.4706,16.7],[.4812,16.9],[.5659,18.3],[.5784,19.1],[.5904,19.6],[.6024,21],[.6117,22.5],[.609,33.8],[.637,25.8],[.641,24.9],[.6463,25.3],[.6516,26.8],[.6529,25.8],[.6316,24.9],[.6223,23.4],[.6183,22.9],[.6396,23.9],[.633,23.9],[.6263,24.4],[.645,26.8],[.6596,26.8],[.6623,24.4],[.6676,23.9]];
const greyTeal=[[.7387,91],[.74,87.7],[.7307,83.2],[.7248,77.5],[.7243,77.7],[.736,73],[.7309,68.6],[.7214,66.1],[.7155,64.3],[.7097,61.5],[.7147,62.5],[.7062,59.7],[.7009,58],[.6929,55.5],[.6849,52.4],[.6777,49.7],[.6657,47.8],[.6476,45.7],[.6069,38.9],[.6197,36.9],[.6303,40.6],[.637,42],[.5997,32.4],[.6223,38.4],[.6716,19.5],[.6756,20],[.7355,27.3],[.7275,25.8],[.7208,25.3],[.5664,29.7],[.5771,30.2],[.585,31.2],[.601,32.4],[.6103,35.5],[.5504,28.3],[.5225,27.6],[.5504,27.3],[.5824,15.4],[.5957,15.9],[.6077,15.2],[.5331,13.3]];
const brown=[[.6103,24.1],[.609,21.5],[.6063,19],[.6103,18.9],[.6183,20.5],[.6702,24.4],[.6809,25.8],[.7155,27.3],[.7208,27.5],[.7262,27.8],[.7315,28.2],[.738,28.7],[.6463,21.3],[.6556,22.4],[.7,25.9],[.705,26.4],[.711,26.8],[.69,24.6]];
const rosy=[[.641,17.1],[.6436,16.2],[.645,15.2],[.6423,15.7],[.6476,17.1],[.6503,19.5],[.6516,21],[.6383,13.7],[.6836,24.2],[.6809,20.5],[.5558,24.4],[.5544,25.4],[.5677,26.6],[.5731,26.3],[.5757,25.4],[.5739,24.2],[.5624,24.9],[.5704,24.9]];
const paleBlue=[[.7475,26.3],[.7448,26.8],[.7608,27.3],[.7661,27.8],[.7714,27.8],[.7754,28.2],[.7794,28.2],[.7848,28.7],[.7888,30],[.7515,26.8],[.7568,27.3],[.7288,22.9],[.7355,24.6],[.7262,23.9],[.7142,21],[.7208,20.5],[.7102,20]];
const lightGrey=[[.7469,12.6],[.7507,13.2],[.7635,12.8],[.7741,12.3],[.7808,12],[.7728,11.8],[.6197,15.2],[.6303,16.2],[.6117,13.3],[.6237,12.8],[.6423,12.6],[.7115,12.3],[.7248,12.6],[.7301,12.3],[.7341,12.8],[.7115,15.2],[.7195,15.7],[.5371,11.3],[.5571,13.3],[.5651,10.9],[.5797,14],[.585,10.4],[.5917,9.9],[.5944,13.8],[.6103,14.2]];

const groups=[['Olive',olive,'#5b7a2f'],['Olive 2',oliveDense,'#5b7a2f'],['Olive 3',oliveCore,'#5b7a2f'],['Light grey',lightGrey,'#e6e6e6'],['Pale blue',paleBlue,'#dbe6ea'],['Tan',tan,'#c9bd82'],['Olive tan',oliveTan,'#a38c4a'],['Teal',teal,'#26706e'],['Grey teal',greyTeal,'#76948e'],['Maroon',maroon,'#8b3040'],['Crimson',crimson,'#b01040'],['Brown',brown,'#8b4500'],['Rosy',rosy,'#c4a09c'],['Navy',navy,'#1a4a75'],['Orange',orange,'#e67e00'],['Bright orange',brightOrange,'#ff8c00'],['Sienna',sienna,'#a0522d'],['Purple',purple,'#800080'],['Lavender',lavender,'#9c97d6'],['Slate',slate,'#7a97ae'],['Light blue',lightBlue,'#7fbfea'],['Azure',azure,'#0a84ff'],['Blue',blue,'#0000ff'],['Gold',gold,'#ffd000'],['Yellow',yellow,'#ffff00'],['Red',red,'#ff0000']];

const chart=echarts.init(document.getElementById('c'),null,{devicePixelRatio:2,renderer:'canvas'});
const series=[{type:'custom',silent:true,z:1,coordinateSystem:'cartesian2d',data:[[fitX[0],fitY[0]]],
 renderItem:(p,api)=>{const up=bandX.map((x,i)=>api.coord([x,bandHigh[i]]));const lo=bandX.map((x,i)=>api.coord([x,bandLow[i]])).reverse();
  return {type:'polygon',shape:{points:up.concat(lo)},style:{fill:'#b87cc4',stroke:'#a04aa8',lineWidth:1,lineDash:[2,2]}};}}];
groups.forEach(g=>series.push({name:g[0],type:'scatter',data:g[1],symbol:'circle',symbolSize:4.2,z:2,itemStyle:{color:g[2],opacity:1},silent:true}));
series.push({name:'Linear fit',type:'line',data:fitX.map((x,i)=>[x,fitY[i]]),symbol:'none',z:5,lineStyle:{color:'#ff0000',width:3.2},silent:true});
const font='"Liberation Sans",Arial,sans-serif';
chart.setOption({animation:false,backgroundColor:'#fff',
 grid:{left:51.2,right:0,top:5,bottom:59,outerBoundsMode:'none'},
 xAxis:{type:'value',min:0.1852,max:1.0103,name:'HDI Levels, (1990-2023)',nameLocation:'middle',nameGap:36,nameMoveOverlap:false,nameTextStyle:{fontFamily:font,fontSize:17.5,color:'#111'},
  splitLine:{show:false},axisLine:{show:true,onZero:false,lineStyle:{color:'#111',width:1.2}},
  axisTick:{show:true,length:8,customValues:xTicks,lineStyle:{color:'#111',width:1}},
  axisLabel:{customValues:xTicks,margin:12,fontFamily:font,fontSize:16.5,color:'#111',formatter:v=>xTickLabels[xTicks.findIndex(t=>Math.abs(t-v)<1e-6)]}},
 yAxis:{type:'value',min:-5.5,max:123.5,name:'ASIR (per 100,000 population)',nameLocation:'middle',nameGap:32,nameMoveOverlap:false,nameTextStyle:{fontFamily:font,fontSize:15,color:'#111'},
  splitLine:{show:false},axisLine:{show:true,onZero:false,lineStyle:{color:'#111',width:1.2}},
  axisTick:{show:true,length:6.5,customValues:yTicks,lineStyle:{color:'#111',width:1}},
  axisLabel:{customValues:yTicks,rotate:90,margin:13,fontFamily:font,fontSize:18,color:'#111'}},
 graphic:[{type:'rect',z:100,shape:{x:52,y:5,width:300.4,height:42},style:{fill:'#fff',stroke:'#222',lineWidth:1,shadowColor:'rgba(0,0,0,0.25)',shadowBlur:1,shadowOffsetX:0.5,shadowOffsetY:1}},
  {type:'text',z:101,x:53.2,y:8.5,style:{text:'Equation: y = 92.41x - 29.45',fill:'#0000ff',font:'17.6px '+font}},
  {type:'text',z:101,x:53.2,y:27.5,style:{text:'R-squared = 0.375 | P-value < 0.001',fill:'#0000ff',font:'17.6px '+font}}],
 series});
</script></body></html>
